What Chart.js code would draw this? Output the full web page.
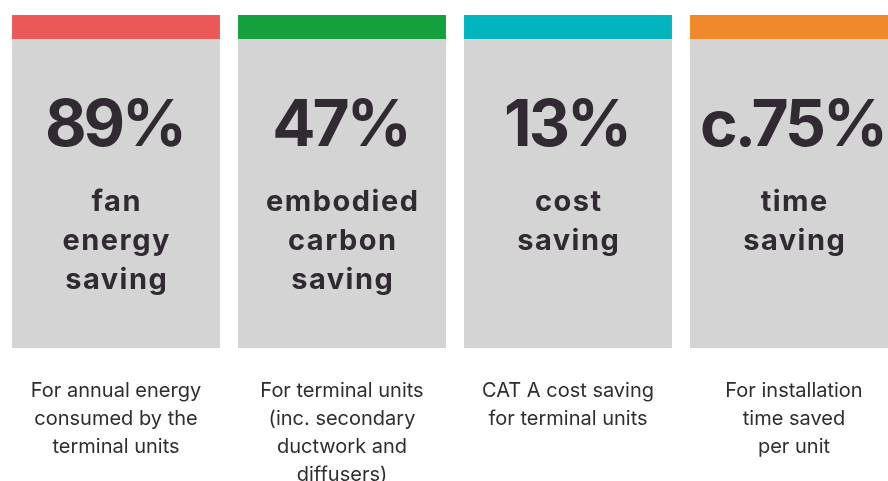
<!DOCTYPE html>
<html>
<head>
<meta charset="utf-8">
<script src="https://cdn.jsdelivr.net/npm/chart.js@4/dist/chart.umd.min.js"></script>
<style>
  html, body { margin: 0; padding: 0; background: #ffffff; }
  #wrap { width: 888px; height: 481px; overflow: hidden; position: relative; }
  #savingsChart { position: absolute; left: 0; top: 0; }
</style>
</head>
<body>
<div id="wrap">
  <canvas id="savingsChart" width="910" height="481"></canvas>
</div>
<script>
// Figures shown on the cards
const savings = [89, 47, 13, 75];
const prefixes = ['', '', '', 'c.'];
const titles = [
    ['fan', 'energy', 'saving'],
    ['embodied', 'carbon', 'saving'],
    ['cost', 'saving'],
    ['time', 'saving']
];
const notes = [
    ['For annual energy', 'consumed by the', 'terminal units'],
    ['For terminal units', '(inc. secondary', 'ductwork and', 'diffusers)'],
    ['CAT A cost saving', 'for terminal units'],
    ['For installation', 'time saved', 'per unit']
];
const categories = titles.map(t => t.join(' '));

const accentColors = ['#eb5858', '#14a03c', '#00b5bd', '#f0882c'];
const cardColor = '#d4d4d4';
const textColor = '#322a33';

// Centred text, allowing for the trailing letter spacing
function centreText(ctx, text, x, y, spacing) {
    ctx.letterSpacing = spacing + 'px';
    ctx.fillText(text, x + spacing / 2, y);
}

// Function to write the figures, titles and notes onto each card
const cardText = {
    id: 'cardText',
    afterDatasetsDraw(chart) {
        const ctx = chart.ctx;
        const bars = chart.getDatasetMeta(0).data;
        ctx.save();
        ctx.textAlign = 'center';
        ctx.textBaseline = 'alphabetic';
        bars.forEach((bar, i) => {
            const top = bar.y;
            ctx.fillStyle = textColor;
            ctx.font = '700 64px Inter';
            centreText(ctx, prefixes[i] + savings[i] + '%', bar.x, top + 131, -3);

            ctx.font = '700 29px Inter';
            titles[i].forEach((line, j) => {
                centreText(ctx, line, bar.x, top + 196 + j * 39, 1.5);
            });

            ctx.fillStyle = '#2e2e2e';
            ctx.font = '400 20px Inter';
            notes[i].forEach((line, j) => {
                centreText(ctx, line, bar.x, bar.base + 49 + j * 28, 0);
            });
        });
        ctx.restore();
    }
};

function initSavingsChart() {
    const ctx = document.getElementById('savingsChart').getContext('2d');
    return new Chart(ctx, {
        type: 'bar',
        data: {
            labels: categories,
            datasets: [{
                label: 'Saving',
                data: savings.map(() => 1),
                backgroundColor: cardColor,
                borderColor: accentColors,
                borderWidth: { top: 24, left: 0, right: 0, bottom: 0 },
                borderSkipped: false,
                barPercentage: 0.92,
                categoryPercentage: 1
            }]
        },
        options: {
            responsive: false,
            animation: false,
            devicePixelRatio: 1,
            layout: {
                padding: { left: 3, right: 3, top: 15, bottom: 133 }
            },
            scales: {
                x: { display: false },
                y: { display: false, min: 0, max: 1 }
            },
            plugins: {
                legend: { display: false },
                tooltip: { enabled: false }
            }
        },
        plugins: [cardText]
    });
}

initSavingsChart();
</script>
</body>
</html>
